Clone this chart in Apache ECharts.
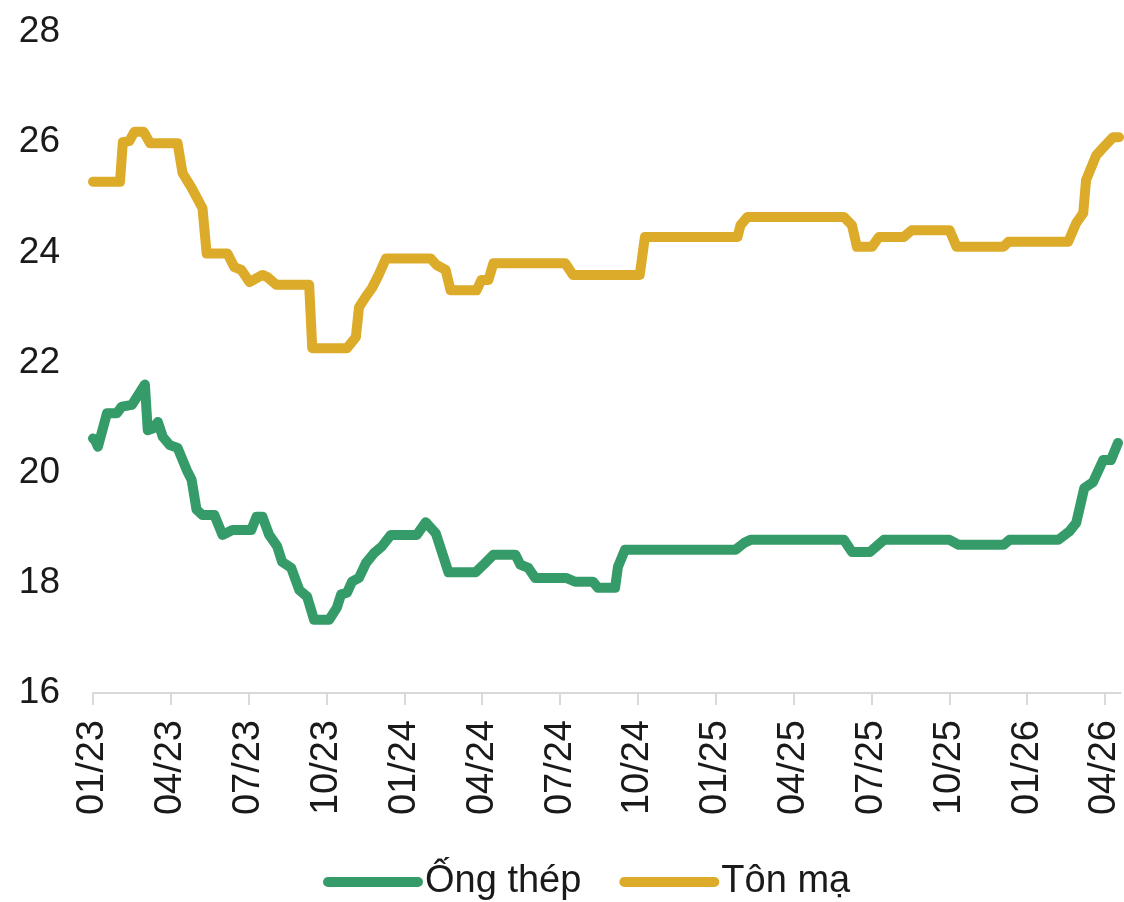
<!DOCTYPE html>
<html lang="vi">
<head>
    <meta charset="UTF-8">
    <title>Ống thép - Tôn mạ</title>
    <style>
        html, body { margin: 0; padding: 0; background: #fff; }
        #main { width: 1124px; height: 902px; }
    </style>
</head>
<body>
<div id="main"></div>
<script src="https://cdn.jsdelivr.net/npm/echarts@6/dist/echarts.min.js"></script>
<script>
    // thời gian tính theo tháng kể từ 01/2023
    var ongThepMonths = [0, 0.08, 0.19, 0.54, 0.92, 1.11, 1.5, 2.0, 2.11, 2.3, 2.5, 2.69, 2.96, 3.26, 3.61, 3.8, 3.99, 4.22, 4.68,
        4.99, 5.37, 6.1, 6.3, 6.53, 6.79, 7.1, 7.29, 7.64, 7.95, 8.25, 8.52, 9.1, 9.4, 9.56, 9.79, 9.98, 10.25, 10.52,
        10.83, 11.13, 11.48, 12.48, 12.82, 13.21, 13.7, 14.74, 15.05, 15.43, 16.28, 16.47, 16.78, 17.04, 18.23, 18.58,
        19.27, 19.46, 20.12, 20.23, 20.5, 24.76, 25.11, 25.34, 28.94, 29.25, 29.94, 30.48, 33.01, 33.36, 35.09, 35.32,
        37.2, 37.62, 37.89, 38.2, 38.54, 38.93, 39.23, 39.5];
    var ongThepValues = [20.62, 20.59, 20.47, 21.08, 21.08, 21.2, 21.23, 21.6, 20.77, 20.8, 20.92, 20.65, 20.5, 20.45, 20.05, 19.87, 19.33, 19.23, 19.23,
        18.87, 18.96, 18.96, 19.2, 19.2, 18.87, 18.66, 18.38, 18.27, 17.87, 17.75, 17.33, 17.33, 17.55, 17.79, 17.82, 18.02, 18.09, 18.36,
        18.54, 18.66, 18.87, 18.87, 19.1, 18.9, 18.19, 18.19, 18.33, 18.51, 18.51, 18.33, 18.27, 18.09, 18.09, 18.02,
        18.02, 17.91, 17.91, 18.29, 18.6, 18.6, 18.73, 18.78, 18.78, 18.56, 18.56, 18.78, 18.78, 18.69, 18.69, 18.78,
        18.78, 18.93, 19.09, 19.72, 19.83, 20.23, 20.23, 20.54];

    var tonMaMonths = [0, 1.04, 1.15, 1.4, 1.6, 1.95, 2.2, 3.26, 3.45, 3.8, 4.22, 4.38, 5.18, 5.45, 5.72, 6.03, 6.53, 6.72, 7.06, 8.33,
        8.45, 9.79, 10.13, 10.25, 10.52, 10.75, 11.02, 11.29, 13.01, 13.24, 13.59, 13.78, 14.78, 14.97, 15.24, 15.43, 18.2,
        18.5, 21.07, 21.27, 24.84, 24.95, 25.22, 28.94, 29.25, 29.44, 30.02, 30.29, 31.25, 31.55, 33.01, 33.28, 35.09,
        35.28, 37.58, 37.89, 38.16, 38.27, 38.66, 38.93, 39.31, 39.54];
    var tonMaValues = [25.28, 25.28, 26.0, 26.02, 26.19, 26.19, 25.98, 25.98, 25.44, 25.17, 24.8, 23.98, 23.98, 23.73, 23.68, 23.46, 23.59, 23.55, 23.41, 23.41,
        22.26, 22.26, 22.46, 23.0, 23.2, 23.35, 23.6, 23.89, 23.89, 23.77, 23.68, 23.31, 23.31, 23.5, 23.5, 23.8, 23.8,
        23.59, 23.59, 24.28, 24.28, 24.49, 24.64, 24.64, 24.49, 24.1, 24.1, 24.28, 24.28, 24.4, 24.4, 24.1, 24.1,
        24.19, 24.19, 24.53, 24.71, 25.31, 25.76, 25.9, 26.09, 26.09];

    var seriesNames = ['Ống thép', 'Tôn mạ'];
    var seriesColors = ['#359b69', '#dcab29'];

    var zip = function (xs, ys) {
        var arr = [];
        for (var i = 0; i < xs.length; i++) arr.push([xs[i], ys[i]]);
        return arr;
    };

    var pad = function (n) { return n < 10 ? '0' + n : '' + n; };

    var font = '"Liberation Sans", Arial, sans-serif';
    var chart = echarts.init(document.getElementById('main'));

    var option = {
        animation: false,
        textStyle: { fontFamily: font },
        grid: { left: 93, right: 0, top: 32, bottom: 209 },
        legend: {
            left: 318,
            top: 858,
            itemWidth: 100,
            itemHeight: 10,
            itemGap: 38,
            icon: 'path://M5,0 H95 A5,5 0 0 1 95,10 H5 A5,5 0 0 1 5,0 Z',
            textStyle: { fontSize: 38, color: '#1a1a1a', fontFamily: font, padding: [0, 0, 0, -3] },
            data: seriesNames
        },
        xAxis: {
            type: 'value',
            min: 0,
            max: 39.6,
            interval: 3,
            splitLine: { show: false },
            axisLine: { show: true, lineStyle: { color: '#d9d9d9', width: 2 } },
            axisTick: { show: true, length: 12, lineStyle: { color: '#d9d9d9', width: 2 } },
            axisLabel: {
                rotate: 90,
                margin: 27,
                fontSize: 38,
                color: '#1a1a1a',
                fontFamily: font,
                showMaxLabel: false,
                formatter: function (v) {
                    if (Math.abs(v % 3) > 0.001) return '';
                    var m = Math.round(v);
                    return pad(m % 12 + 1) + '/' + (23 + Math.floor(m / 12));
                }
            }
        },
        yAxis: {
            type: 'value',
            min: 16,
            max: 28,
            interval: 2,
            splitLine: { show: false },
            axisLine: { show: false },
            axisTick: { show: false },
            axisLabel: { fontSize: 37, color: '#1a1a1a', margin: 33, fontFamily: font }
        },
        series: [
            {
                name: seriesNames[0],
                type: 'line',
                showSymbol: false,
                color: seriesColors[0],
                lineStyle: { width: 10, color: seriesColors[0], join: 'round', cap: 'round' },
                data: zip(ongThepMonths, ongThepValues)
            },
            {
                name: seriesNames[1],
                type: 'line',
                showSymbol: false,
                color: seriesColors[1],
                lineStyle: { width: 10, color: seriesColors[1], join: 'round', cap: 'round' },
                data: zip(tonMaMonths, tonMaValues)
            }
        ]
    };

    chart.setOption(option);
</script>
</body>
</html>
